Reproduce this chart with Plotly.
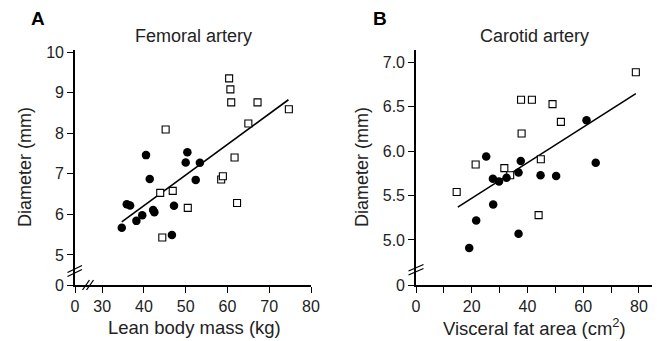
import plotly.graph_objects as go

# ---------------- data ----------------
# Panel A: Femoral artery, lean body mass (kg) vs diameter (mm)
femoral_filled_x = [40.5, 50.4, 50.0, 53.4, 41.4, 52.4, 35.9, 36.7, 47.2, 42.2, 42.5, 39.6, 38.2, 34.7, 46.7]
femoral_filled_y = [7.46, 7.53, 7.28, 7.27, 6.87, 6.85, 6.25, 6.22, 6.21, 6.11, 6.05, 5.98, 5.84, 5.67, 5.49]
femoral_open_x = [60.4, 60.7, 60.9, 67.2, 74.7, 65.0, 45.2, 61.7, 58.5, 58.9, 43.9, 46.9, 50.5, 62.3, 44.4]
femoral_open_y = [9.35, 9.08, 8.76, 8.76, 8.59, 8.24, 8.09, 7.40, 6.86, 6.94, 6.53, 6.58, 6.16, 6.28, 5.43]
femoral_fit = {"slope": 0.0754, "intercept": 3.20, "x_from": 34.7, "x_to": 74.6}

# Panel B: Carotid artery, visceral fat area (cm2) vs diameter (mm)
carotid_filled_x = [25.2, 37.6, 61.2, 64.5, 27.6, 29.8, 32.5, 36.8, 44.7, 50.3, 27.7, 21.6, 36.8, 19.1]
carotid_filled_y = [5.94, 5.89, 6.35, 5.87, 5.69, 5.66, 5.70, 5.76, 5.73, 5.72, 5.40, 5.22, 5.07, 4.91]
carotid_open_x = [78.9, 37.7, 41.6, 49.0, 52.0, 37.9, 44.8, 21.4, 31.7, 33.8, 14.6, 44.0]
carotid_open_y = [6.89, 6.58, 6.58, 6.53, 6.33, 6.20, 5.91, 5.85, 5.81, 5.73, 5.54, 5.28]
carotid_fit = {"slope": 0.0200, "intercept": 5.07, "x_from": 15.0, "x_to": 78.9}

# tick labels
femoral_x_ticks = ["0", "30", "40", "50", "60", "70", "80"]
femoral_y_ticks = ["0", "5", "6", "7", "8", "9", "10"]
carotid_x_ticks = ["0", "20", "40", "60", "80"]
carotid_x_minor = [10, 30, 50, 70]
carotid_y_ticks = ["0", "5.0", "5.5", "6.0", "6.5", "7.0"]

# broken-axis positions: where the "0" label sits on the compressed axis
A_X_ZERO = 23.5
A_Y_ZERO = 4.26
B_Y_ZERO = 4.493

W, H = 657, 341
def px(x):
    return x / W
def py(y):
    return 1 - y / H

FONT = "Liberation Sans, Arial, Helvetica, sans-serif"

fig = go.Figure()

def add_panel(fx, fy, ox, oy, fit, xa, ya):
    xs = [fit["x_from"], fit["x_to"]]
    ys = [fit["intercept"] + fit["slope"] * v for v in xs]
    fig.add_trace(go.Scatter(x=xs, y=ys, mode="lines", line=dict(color="black", width=1.6),
                             xaxis=xa, yaxis=ya, showlegend=False, hoverinfo="skip"))
    fig.add_trace(go.Scatter(x=ox, y=oy, mode="markers",
                             marker=dict(symbol="square", size=7, color="white",
                                         line=dict(color="black", width=1.1)),
                             xaxis=xa, yaxis=ya, showlegend=False))
    fig.add_trace(go.Scatter(x=fx, y=fy, mode="markers",
                             marker=dict(symbol="circle", size=8.5, color="black",
                                         line=dict(width=0)),
                             xaxis=xa, yaxis=ya, showlegend=False))

add_panel(femoral_filled_x, femoral_filled_y, femoral_open_x, femoral_open_y, femoral_fit, "x", "y")
add_panel(carotid_filled_x, carotid_filled_y, carotid_open_x, carotid_open_y, carotid_fit, "x2", "y2")

axis_common = dict(showline=True, linecolor="black", linewidth=1.6, ticks="outside",
                   ticklen=6, tickwidth=1.3, tickcolor="black", showgrid=False, zeroline=False,
                   automargin=False,
                   tickfont=dict(family=FONT, size=16, color="#222"), fixedrange=True)

fig.update_layout(
    template="none",
    width=W, height=H, margin=dict(l=0, r=0, t=0, b=0, pad=0),
    paper_bgcolor="white", plot_bgcolor="rgba(0,0,0,0)",
    font=dict(family=FONT, color="#222"),
    showlegend=False,
    xaxis=dict(domain=[px(75), px(311)], range=[A_X_ZERO, 80], anchor="y",
               tickmode="array", tickvals=[A_X_ZERO, 30, 40, 50, 60, 70, 80],
               ticktext=femoral_x_ticks, **axis_common),
    yaxis=dict(domain=[py(285), py(50)], range=[A_Y_ZERO, 10.05], anchor="x",
               tickmode="array", tickvals=[A_Y_ZERO, 5, 6, 7, 8, 9, 10],
               ticktext=femoral_y_ticks, **axis_common),
    xaxis2=dict(domain=[px(416), px(652)], range=[0, 84.7], anchor="y2",
                tickmode="array", tickvals=[0, 20, 40, 60, 80],
                ticktext=carotid_x_ticks,
                minor=dict(tickmode="array", tickvals=carotid_x_minor, ticks="outside",
                           ticklen=6, tickwidth=1.3, tickcolor="black", showgrid=False),
                **axis_common),
    yaxis2=dict(domain=[py(285), py(50)], range=[B_Y_ZERO, 7.14], anchor="x2",
                tickmode="array", tickvals=[B_Y_ZERO, 5.0, 5.5, 6.0, 6.5, 7.0],
                ticktext=carotid_y_ticks, **axis_common),
)

def text(x, y, s, size=17, bold=False, angle=0):
    fig.add_annotation(x=px(x), y=py(y), xref="paper", yref="paper", text=s,
                       showarrow=False, xanchor="center", yanchor="middle", textangle=angle,
                       font=dict(family=FONT, size=size, color="black" if bold else "#222"))

text(38, 19, "<b>A</b>", size=19, bold=True)
text(380, 19, "<b>B</b>", size=19, bold=True)
text(193, 36, "Femoral artery", size=18)
text(534, 36, "Carotid artery", size=18)
text(194, 327, "Lean body mass (kg)", size=18.5)
text(534, 327, "Visceral fat area (cm<sup>2</sup>)", size=18.5)
text(25, 167, "Diameter (mm)", size=18, angle=-90)
text(362, 167, "Diameter (mm)", size=18, angle=-90)

def brk(x0, y0, x1, y1):
    fig.add_shape(type="line", xref="paper", yref="paper",
                  x0=px(x0), y0=py(y0), x1=px(x1), y1=py(y1),
                  line=dict(color="black", width=1.3))

# y-axis break marks (panel A)
brk(67.5, 272.5, 82, 265.5)
brk(67.5, 276.5, 82, 269.5)
# x-axis break marks (panel A)
brk(82.5, 290, 89.5, 280)
brk(86.5, 290, 93.5, 280)
# y-axis break marks (panel B)
brk(408.5, 271, 423.5, 264.5)
brk(408.5, 275, 423.5, 268.5)

# remove the browser's default page margin so the figure fills the window exactly
fig.write_html("out.html",
               config={"displayModeBar": False, "staticPlot": False},
               post_script="document.body.style.margin='0px';document.body.style.overflow='hidden';")
